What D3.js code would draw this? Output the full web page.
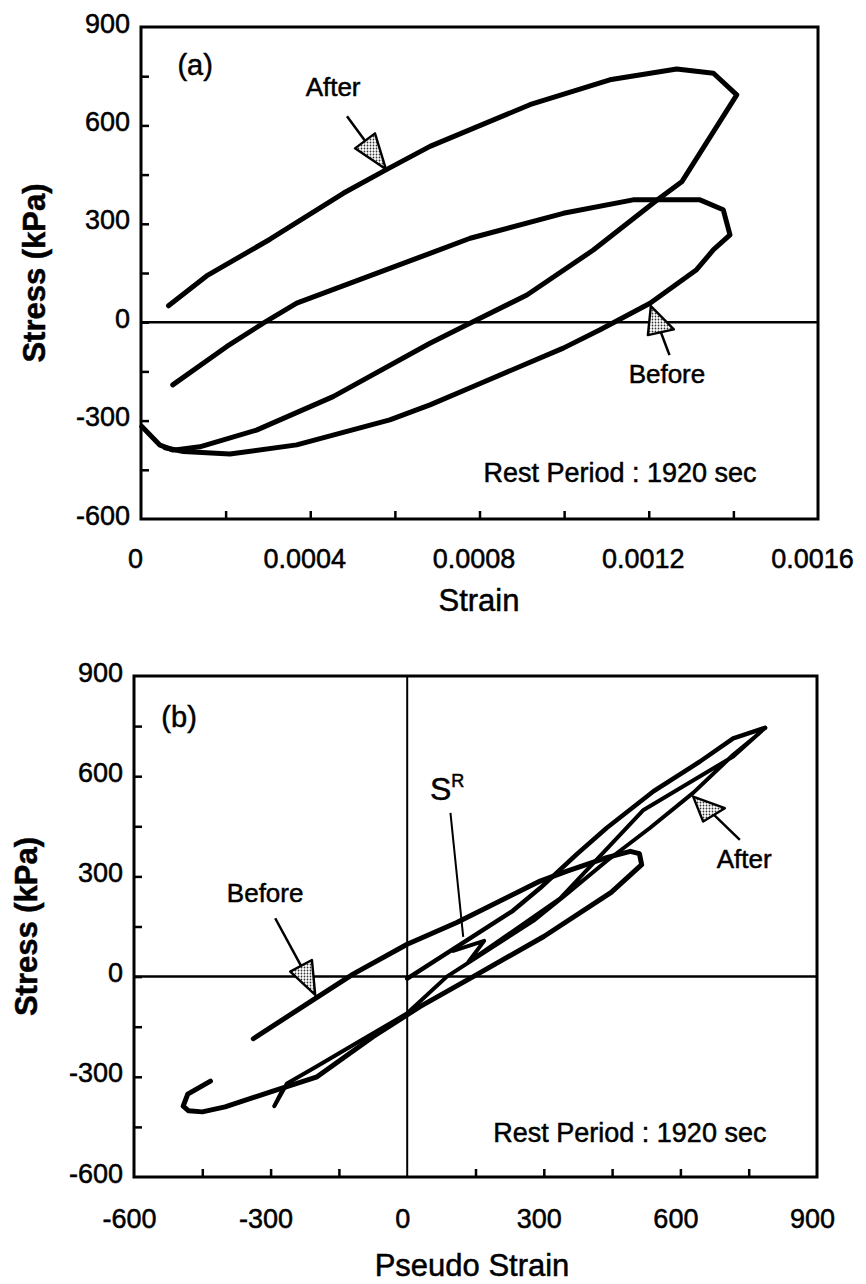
<!DOCTYPE html>
<html><head><meta charset="utf-8">
<script src="https://cdn.jsdelivr.net/npm/d3@7"></script>
<style>
body{margin:0;background:#fff}
svg{display:block;background:#fff}
text{font-family:"Liberation Sans",Arial,Helvetica,sans-serif;fill:#000;stroke:#000;stroke-width:0.5px}
</style></head>
<body><svg id="chart" width="866" height="1284"></svg>
<script>
// ---------- data ----------
const strainTicks = [0, 0.0004, 0.0008, 0.0012, 0.0016];
const strainTickLabels = ["0", "0.0004", "0.0008", "0.0012", "0.0016"];
const strainMinor = [0.0002, 0.0004, 0.0006, 0.0008, 0.0010, 0.0012, 0.0014];
const stressTicks = [-600, -300, 0, 300, 600, 900];
const stressMinor = [-450, -300, -150, 0, 150, 300, 450, 600, 750];
const pseudoTicks = [-600, -300, 0, 300, 600, 900];
const pseudoMinor = [-450, -300, -150, 150, 300, 450, 600, 750];

// panel (a): stress vs strain
const afterA_strain = [0.000065, 0.000155, 0.000305, 0.000478, 0.000581, 0.000683, 0.000919, 0.001108, 0.001266, 0.001353, 0.001408, 0.001278, 0.001219, 0.001069, 0.000912, 0.000762, 0.000683, 0.000454, 0.000273, 0.000139, 0.000076, 0.000045, 0.000002];
const afterA_stress = [50, 141, 253, 393, 466, 536, 663, 739, 772, 759, 693, 428, 372, 220, 83, -13, -64, -227, -329, -380, -390, -375, -318];
const beforeA_strain = [0.000075, 0.000203, 0.000289, 0.000368, 0.000683, 0.000778, 0.000998, 0.001163, 0.001321, 0.001376, 0.001392, 0.001353, 0.001313, 0.001203, 0.001085, 0.000998, 0.000785, 0.000683, 0.000588, 0.000368, 0.00021, 0.0001, 0.000057];
const beforeA_stress = [-191, -74, -3, 58, 210, 256, 332, 373, 373, 343, 266, 221, 160, 58, -23, -79, -196, -252, -298, -374, -402, -394, -383];

// panel (b): stress vs pseudo strain
const beforeB_pseudo = [-338, -198, -118, 0, 109, 292, 351, 438, 490, 510, 515, 448, 300, 145, 28, -75, -198, -300, -400, -450, -480, -492, -482, -432];
const beforeB_stress = [-186, -62, 8, 97, 162, 286, 316, 356, 375, 368, 335, 252, 120, 0, -90, -180, -300, -345, -390, -405, -402, -388, -352, -313];
const afterB_pseudo = [101, 169, 134, 336, 519, 716, 786, 770, 716, 628, 533, 438, 350, 277, 87, 0, -100, -200, -264, -292, -272];
const afterB_stress = [77, 107, 43, 234, 499, 659, 745, 725, 664, 550, 445, 346, 247, 167, 0, -110, -190, -270, -320, -388, -335];
const reloadB_pseudo = [0, 232, 292, 373, 438, 541, 643, 716, 786];
const reloadB_stress = [-6, 197, 265, 367, 445, 555, 644, 713, 745];

// ---------- drawing ----------
const svg = d3.select("#chart");
svg.append("defs").append("pattern")
  .attr("id", "dots").attr("patternUnits", "userSpaceOnUse")
  .attr("width", 3).attr("height", 3)
  .call(p => {
    p.append("rect").attr("width", 3).attr("height", 3).attr("fill", "#fff");
    p.append("circle").attr("cx", 1.5).attr("cy", 1.5).attr("r", 0.9).attr("fill", "#333");
  });

function panel(g, x, y, o) {
  const [x0, x1] = x.range();
  const [yb, yt] = y.range();
  g.append("g").attr("transform", `translate(${x0},0)`)
    .call(d3.axisLeft(y).tickValues(o.yMinor).tickSize(-8).tickFormat(""))
    .call(s => s.select(".domain").remove())
    .selectAll("line").attr("stroke-width", 2.5);
  g.append("g").attr("transform", `translate(0,${yb})`)
    .call(d3.axisBottom(x).tickValues(o.xMinor).tickSize(-8).tickFormat(""))
    .call(s => s.select(".domain").remove())
    .selectAll("line").attr("stroke-width", 2.5);
  g.append("g").attr("transform", `translate(${x0},0)`)
    .call(d3.axisLeft(y).tickValues(stressTicks).tickSize(0).tickPadding(11).tickFormat(d => String(d)))
    .call(s => s.select(".domain").remove())
    .selectAll("text").attr("font-size", 27).attr("dy", "0.19em");
  g.append("g").attr("transform", `translate(0,${yb})`)
    .call(d3.axisBottom(x).tickValues(o.xTicks).tickSize(0).tickPadding(o.xPad).tickFormat((d, i) => o.xLabels[i]))
    .call(s => s.select(".domain").remove())
    .selectAll("text").attr("font-size", 27).attr("dx", o.xdx);
  g.append("rect").attr("x", x0).attr("y", yt).attr("width", x1 - x0).attr("height", yb - yt)
    .attr("fill", "none").attr("stroke", "#000").attr("stroke-width", 3);
  g.append("line").attr("x1", x0).attr("x2", x1).attr("y1", y(0)).attr("y2", y(0))
    .attr("stroke", "#000").attr("stroke-width", 2.5);
  g.append("text").attr("x", o.xTitleX).attr("y", o.xTitleY).attr("text-anchor", "middle")
    .attr("font-size", 31).text(o.xTitle);
  g.append("text").attr("transform", `translate(${o.yTitleX},${(yb + yt) / 2}) rotate(-90)`)
    .attr("text-anchor", "middle").attr("font-size", 31).attr("font-weight", "bold").text("Stress (kPa)");
}

function curve(g, x, y, xs, ys, w) {
  const line = d3.line().x(d => x(d[0])).y(d => y(d[1]));
  g.append("path").attr("d", line(d3.zip(xs, ys)))
    .attr("fill", "none").attr("stroke", "#000").attr("stroke-width", w)
    .attr("stroke-linejoin", "round").attr("stroke-linecap", "round");
}

function arrow(g, x, y, tip, c1, c2, tail) {
  const tx = x(tip[0]), ty = y(tip[1]);
  const mx = tx + (c1[0] + c2[0]) / 2, my = ty + (c1[1] + c2[1]) / 2;
  g.append("line").attr("x1", tx + tail[0]).attr("y1", ty + tail[1]).attr("x2", mx).attr("y2", my)
    .attr("stroke", "#000").attr("stroke-width", 2.5);
  g.append("path")
    .attr("d", `M${tx},${ty}L${tx + c1[0]},${ty + c1[1]}L${tx + c2[0]},${ty + c2[1]}Z`)
    .attr("fill", "url(#dots)").attr("stroke", "#000").attr("stroke-width", 2.4).attr("stroke-linejoin", "round");
}

function label(g, x, y, pos, txt, size, anchor) {
  return g.append("text").attr("x", x(pos[0])).attr("y", y(pos[1]))
    .attr("text-anchor", anchor || "middle").attr("font-size", size).text(txt);
}

// ----- panel (a) -----
const xA = d3.scaleLinear().domain([0, 0.0016]).range([141, 818]);
const yA = d3.scaleLinear().domain([-600, 900]).range([519, 27]);
const gA = svg.append("g");
panel(gA, xA, yA, {
  yMinor: stressMinor, xMinor: strainMinor, xTicks: strainTicks, xLabels: strainTickLabels,
  xPad: 30, xdx: -6, xTitle: "Strain", xTitleX: 479, xTitleY: 611, yTitleX: 45
});
curve(gA, xA, yA, afterA_strain, afterA_stress, 5);
curve(gA, xA, yA, beforeA_strain, beforeA_stress, 5);
arrow(gA, xA, yA, [0.000579, 466], [-31, -21], [-11, -36], [-39, -53]);
arrow(gA, xA, yA, [0.001205, 49], [-3, 29], [23, 23.3], [18.6, 49]);
label(gA, xA, yA, [0.000128, 754], "(a)", 29);
label(gA, xA, yA, [0.000454, 690], "After", 26);
label(gA, xA, yA, [0.001243, -185], "Before", 26);
label(gA, xA, yA, [0.001132, -487], "Rest Period : 1920 sec", 27);

// ----- panel (b) -----
const xB = d3.scaleLinear().domain([-600, 900]).range([134, 817]);
const yB = d3.scaleLinear().domain([-600, 900]).range([1177, 676]);
const gB = svg.append("g");
panel(gB, xB, yB, {
  yMinor: stressMinor, xMinor: pseudoMinor, xTicks: pseudoTicks, xLabels: pseudoTicks.map(String),
  xPad: 32, xdx: -5, xTitle: "Pseudo Strain", xTitleX: 472, xTitleY: 1276, yTitleX: 37
});
gB.append("line").attr("x1", xB(0)).attr("x2", xB(0)).attr("y1", yB(900)).attr("y2", yB(-600))
  .attr("stroke", "#000").attr("stroke-width", 2);
curve(gB, xB, yB, beforeB_pseudo, beforeB_stress, 5);
curve(gB, xB, yB, reloadB_pseudo, reloadB_stress, 4.5);
curve(gB, xB, yB, afterB_pseudo, afterB_stress, 4);
arrow(gB, xB, yB, [-202, -55], [-25, -23.3], [-3.3, -35], [-40, -76.7]);
arrow(gB, xB, yB, [628, 539], [10, 25], [31.7, 11.6], [46.7, 43.3]);
gB.append("line").attr("x1", xB(95)).attr("y1", yB(490)).attr("x2", xB(123)).attr("y2", yB(119))
  .attr("stroke", "#000").attr("stroke-width", 2);
label(gB, xB, yB, [-501, 747], "(b)", 29);
label(gB, xB, yB, [-312, 224], "Before", 26);
label(gB, xB, yB, [740, 325], "After", 26);
label(gB, xB, yB, [489, -495], "Rest Period : 1920 sec", 27);
const sr = label(gB, xB, yB, [50, 529], "S", 32, "start");
sr.append("tspan").attr("font-size", 18).attr("dy", -13).text("R");
</script></body></html>
